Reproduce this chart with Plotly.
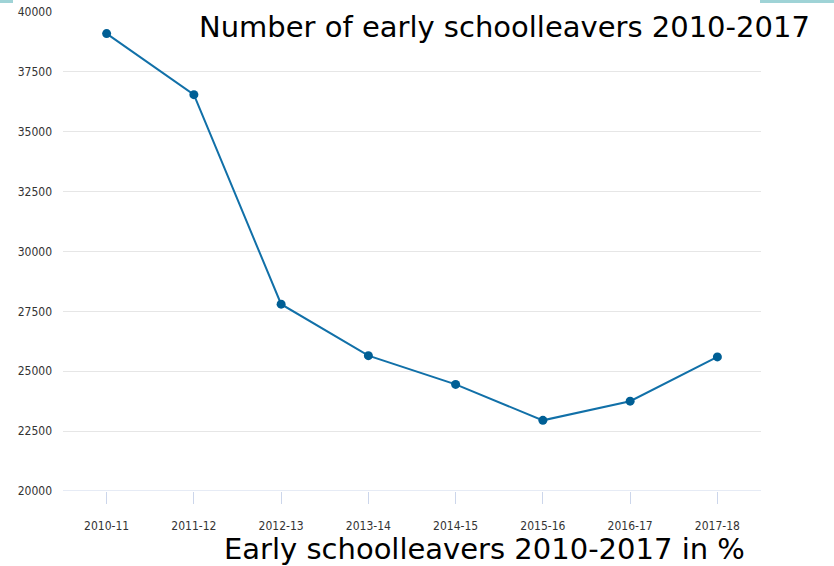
import plotly.graph_objects as go

# School years and the number of early school leavers in each
years = ["2010-11", "2011-12", "2012-13", "2013-14", "2014-15", "2015-16", "2016-17", "2017-18"]
leavers = [39100, 36550, 27800, 25650, 24450, 22950, 23750, 25600]
y_ticks = [20000, 22500, 25000, 27500, 30000, 32500, 35000, 37500, 40000]

fig = go.Figure()
fig.add_trace(go.Scatter(
    x=years, y=leavers, mode="lines+markers",
    line=dict(color="#1170a8", width=2),
    marker=dict(color="#005f95", size=9),
    hoverinfo="x+y", showlegend=False,
))

tick_font = dict(family="DejaVu Sans Condensed, DejaVu Sans", size=12, color="#333333")
W = 698  # plot-area width in px

fig.update_layout(
    width=834, height=566,
    margin=dict(l=63, r=73, t=12, b=75),
    paper_bgcolor="white", plot_bgcolor="white",
    xaxis=dict(
        type="category", range=[-0.5, len(years) - 0.5],
        showgrid=False, zeroline=False, automargin=False,
        showline=False, ticks="outside", ticklen=12, tickwidth=1,
        tickcolor="#ccd6eb", tickfont=tick_font, ticklabelstandoff=12,
    ),
    yaxis=dict(
        range=[20000, 40000], tickvals=y_ticks, ticktext=[str(v) for v in y_ticks],
        showgrid=True, gridcolor="#e6e6e6", gridwidth=1, zeroline=False,
        automargin=False, showline=False, tickfont=tick_font, ticklabelstandoff=10,
    ),
    shapes=[
        dict(type="line", xref="paper", yref="y", x0=0, x1=1, y0=20000, y1=20000,
             line=dict(color="#ccd6eb", width=1), layer="below"),
        dict(type="rect", xref="paper", yref="paper", x0=-63 / W, x1=-50 / W,
             y0=1 + 9 / 479, y1=1 + 12 / 479, fillcolor="#9fd3d6", line=dict(width=0)),
        dict(type="rect", xref="paper", yref="paper", x0=(760 - 63) / W, x1=(834 - 63) / W,
             y0=1 + 9 / 479, y1=1 + 12 / 479, fillcolor="#9fd3d6", line=dict(width=0)),
    ],
    annotations=[
        dict(text="Number of early schoolleavers 2010-2017", xref="paper", yref="paper",
             x=(505 - 63) / W, y=1 - 15 / 479, xanchor="center", yanchor="middle",
             showarrow=False, font=dict(family="DejaVu Sans", size=29, color="#000000")),
        dict(text="Early schoolleavers 2010-2017 in %", xref="paper", yref="paper",
             x=(484 - 63) / W, y=-58 / 479, xanchor="center", yanchor="middle",
             showarrow=False, font=dict(family="DejaVu Sans", size=29, color="#000000")),
    ],
)

fig.write_html("out.html")
